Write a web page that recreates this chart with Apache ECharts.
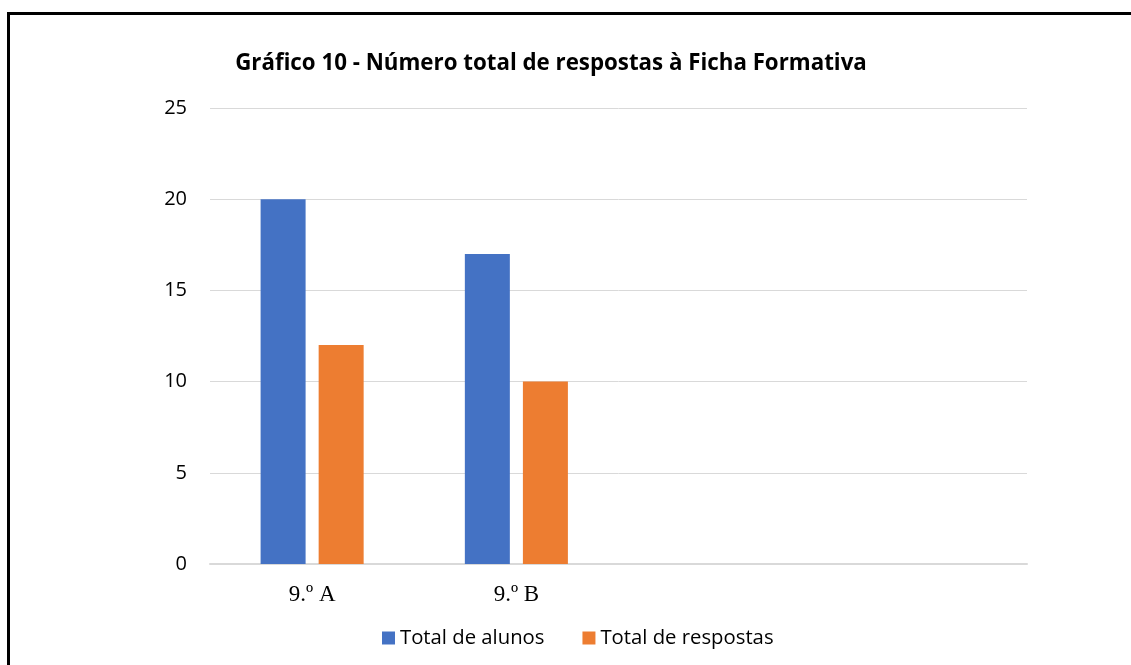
<!DOCTYPE html>
<html>
<head>
<meta charset="utf-8">
<script src="https://cdn.jsdelivr.net/npm/echarts@6/dist/echarts.min.js"></script>
<style>
  html, body { margin: 0; padding: 0; background: #fff; }
  #frame { position: absolute; left: 7px; top: 12px; width: 1140px; height: 670px; border: 3px solid #000; box-sizing: border-box; }
  #chart { position: absolute; left: 0; top: 0; width: 1131px; height: 665px; }
</style>
</head>
<body>
<div id="frame"></div>
<div id="chart"></div>
<script>
// dados do gráfico
const turmas = ['9.º A', '9.º B', '', ''];
const totalAlunos = [20, 17];
const totalRespostas = [12, 10];
const yTicks = [0, 5, 10, 15, 20, 25];

const chart = echarts.init(document.getElementById('chart'), null, { renderer: 'canvas' });

const option = {
  animation: false,
  title: {
    text: 'Gráfico 10 - Número total de respostas à Ficha Formativa',
    left: 546,
    top: 48,
    textAlign: 'center',
    textStyle: { fontFamily: 'Open Sans', fontWeight: 'bold', fontSize: 22.3, color: '#000' }
  },
  legend: {
    top: 628,
    left: 382,
    padding: 0,
    itemWidth: 13,
    itemHeight: 13,
    itemGap: 38,
    icon: 'rect',
    textStyle: { fontFamily: 'Open Sans', fontSize: 20.3, color: '#000' },
    data: ['Total de alunos', 'Total de respostas']
  },
  grid: { left: 210, right: 104, top: 108, bottom: 101 },
  xAxis: {
    type: 'category',
    data: turmas,
    axisLine: { lineStyle: { color: '#D9D9D9', width: 2 } },
    axisTick: { show: false },
    axisLabel: { fontFamily: 'Liberation Serif', fontSize: 23, color: '#000', margin: 19 }
  },
  yAxis: {
    type: 'value',
    min: yTicks[0],
    max: yTicks[yTicks.length - 1],
    interval: 5,
    axisLine: { show: false },
    axisTick: { show: false },
    splitLine: { lineStyle: { color: '#D9D9D9', width: 1 } },
    axisLabel: { fontFamily: 'Open Sans', fontSize: 20, color: '#000', margin: 23 }
  },
  series: [
    {
      name: 'Total de alunos',
      type: 'bar',
      data: totalAlunos,
      barWidth: 45,
      barGap: '29%',
      itemStyle: { color: '#4472C4' }
    },
    {
      name: 'Total de respostas',
      type: 'bar',
      data: totalRespostas,
      barWidth: 45,
      itemStyle: { color: '#ED7D31' }
    }
  ]
};

chart.setOption(option);
</script>
</body>
</html>
